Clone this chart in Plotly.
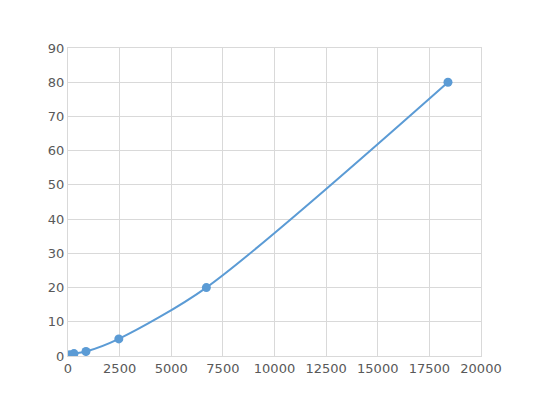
import plotly.graph_objects as go

# standard curve points
conc = [100, 290, 870, 2460, 6700, 18400]
od = [0.4, 0.7, 1.3, 5.0, 20.0, 80.0]

x_ticks = [0, 2500, 5000, 7500, 10000, 12500, 15000, 17500, 20000]
y_ticks = [0, 10, 20, 30, 40, 50, 60, 70, 80, 90]

blue = "#5b9bd5"
grid = "#d9d9d9"

fig = go.Figure()
fig.add_trace(go.Scatter(
    x=conc, y=od, mode="lines+markers",
    line=dict(color=blue, width=2, shape="spline", smoothing=0.8),
    marker=dict(color=blue, size=9),
    showlegend=False,
))

fig.update_layout(
    width=533, height=400,
    margin=dict(l=60, r=60, t=40, b=52),
    paper_bgcolor="white", plot_bgcolor="white",
    font=dict(family="DejaVu Sans", size=13, color="#595959"),
)
fig.update_xaxes(
    range=[0, 20000], tickvals=x_ticks, ticktext=[str(v) for v in x_ticks],
    showgrid=True, gridcolor=grid, gridwidth=1,
    showline=True, linecolor=grid, mirror=True, zeroline=False,
    ticks="", ticklen=0,
)
fig.update_yaxes(
    range=[0, 90], tickvals=y_ticks,
    showgrid=True, gridcolor=grid, gridwidth=1,
    showline=True, linecolor=grid, mirror=True, zeroline=False,
    ticks="",
)

fig.write_html("out.html")
